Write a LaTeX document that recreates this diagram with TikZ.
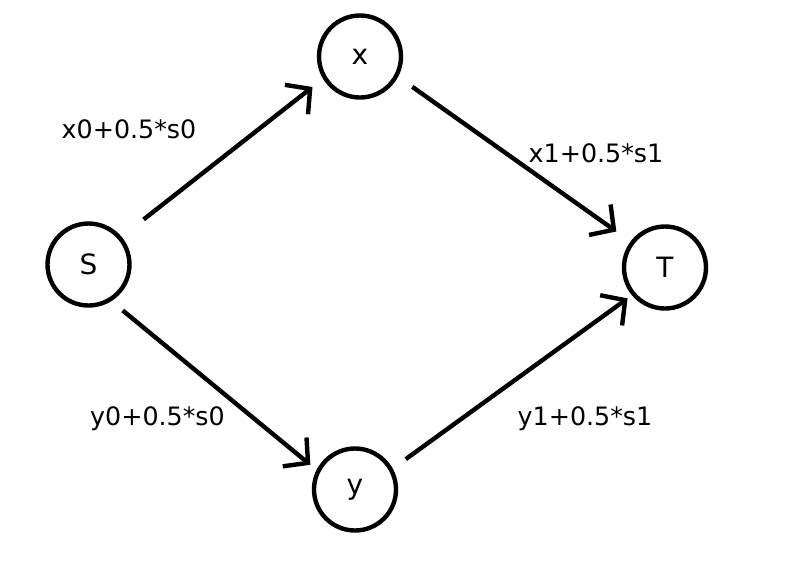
\documentclass[tikz,border=0pt]{standalone}
\usepackage{fontspec}
\setmainfont{DejaVu Sans}
\usetikzlibrary{arrows.meta}
\begin{document}
\begin{tikzpicture}[x=0.75pt,y=-0.75pt,
  vert/.style={circle,draw=black,line width=3.3pt,minimum size=61.5pt,inner sep=0pt,font=\fontsize{21}{24}\selectfont},
  conn/.style={line width=3.3pt,-{Straight Barb[length=13pt,width=28pt,line width=3.3pt]}},
  lbl/.style={anchor=base,inner sep=0pt,font=\fontsize{19}{22}\selectfont}]
\useasboundingbox[fill=white] (0,0) rectangle (793,565);
\node[vert] (S) at (88.5,264.5) {S};
\node[vert] (x) at (360,56.5) {x};
\node[vert] (T) at (665,267.5) {T};
\node[vert] (y) at (355,489.5) {y};
\draw[conn,shorten <=21pt,shorten >=10pt] (S.40) -- (x.211);
\draw[conn,shorten <=13pt,shorten >=13pt] (x.332) -- (T.143);
\draw[conn,shorten <=11pt,shorten >=6pt] (S.302) -- (y.153);
\draw[conn,shorten <=12pt,shorten >=4pt] (y.29) -- (T.220);
\node[lbl] (lx0) at (129,138) {x0+0.5*s0};
\node[lbl] (lx1) at (596,162) {x1+0.5*s1};
\node[lbl] (ly0) at (157.5,425) {y0+0.5*s0};
\node[lbl] (ly1) at (585,425) {y1+0.5*s1};
\end{tikzpicture}
\end{document}
